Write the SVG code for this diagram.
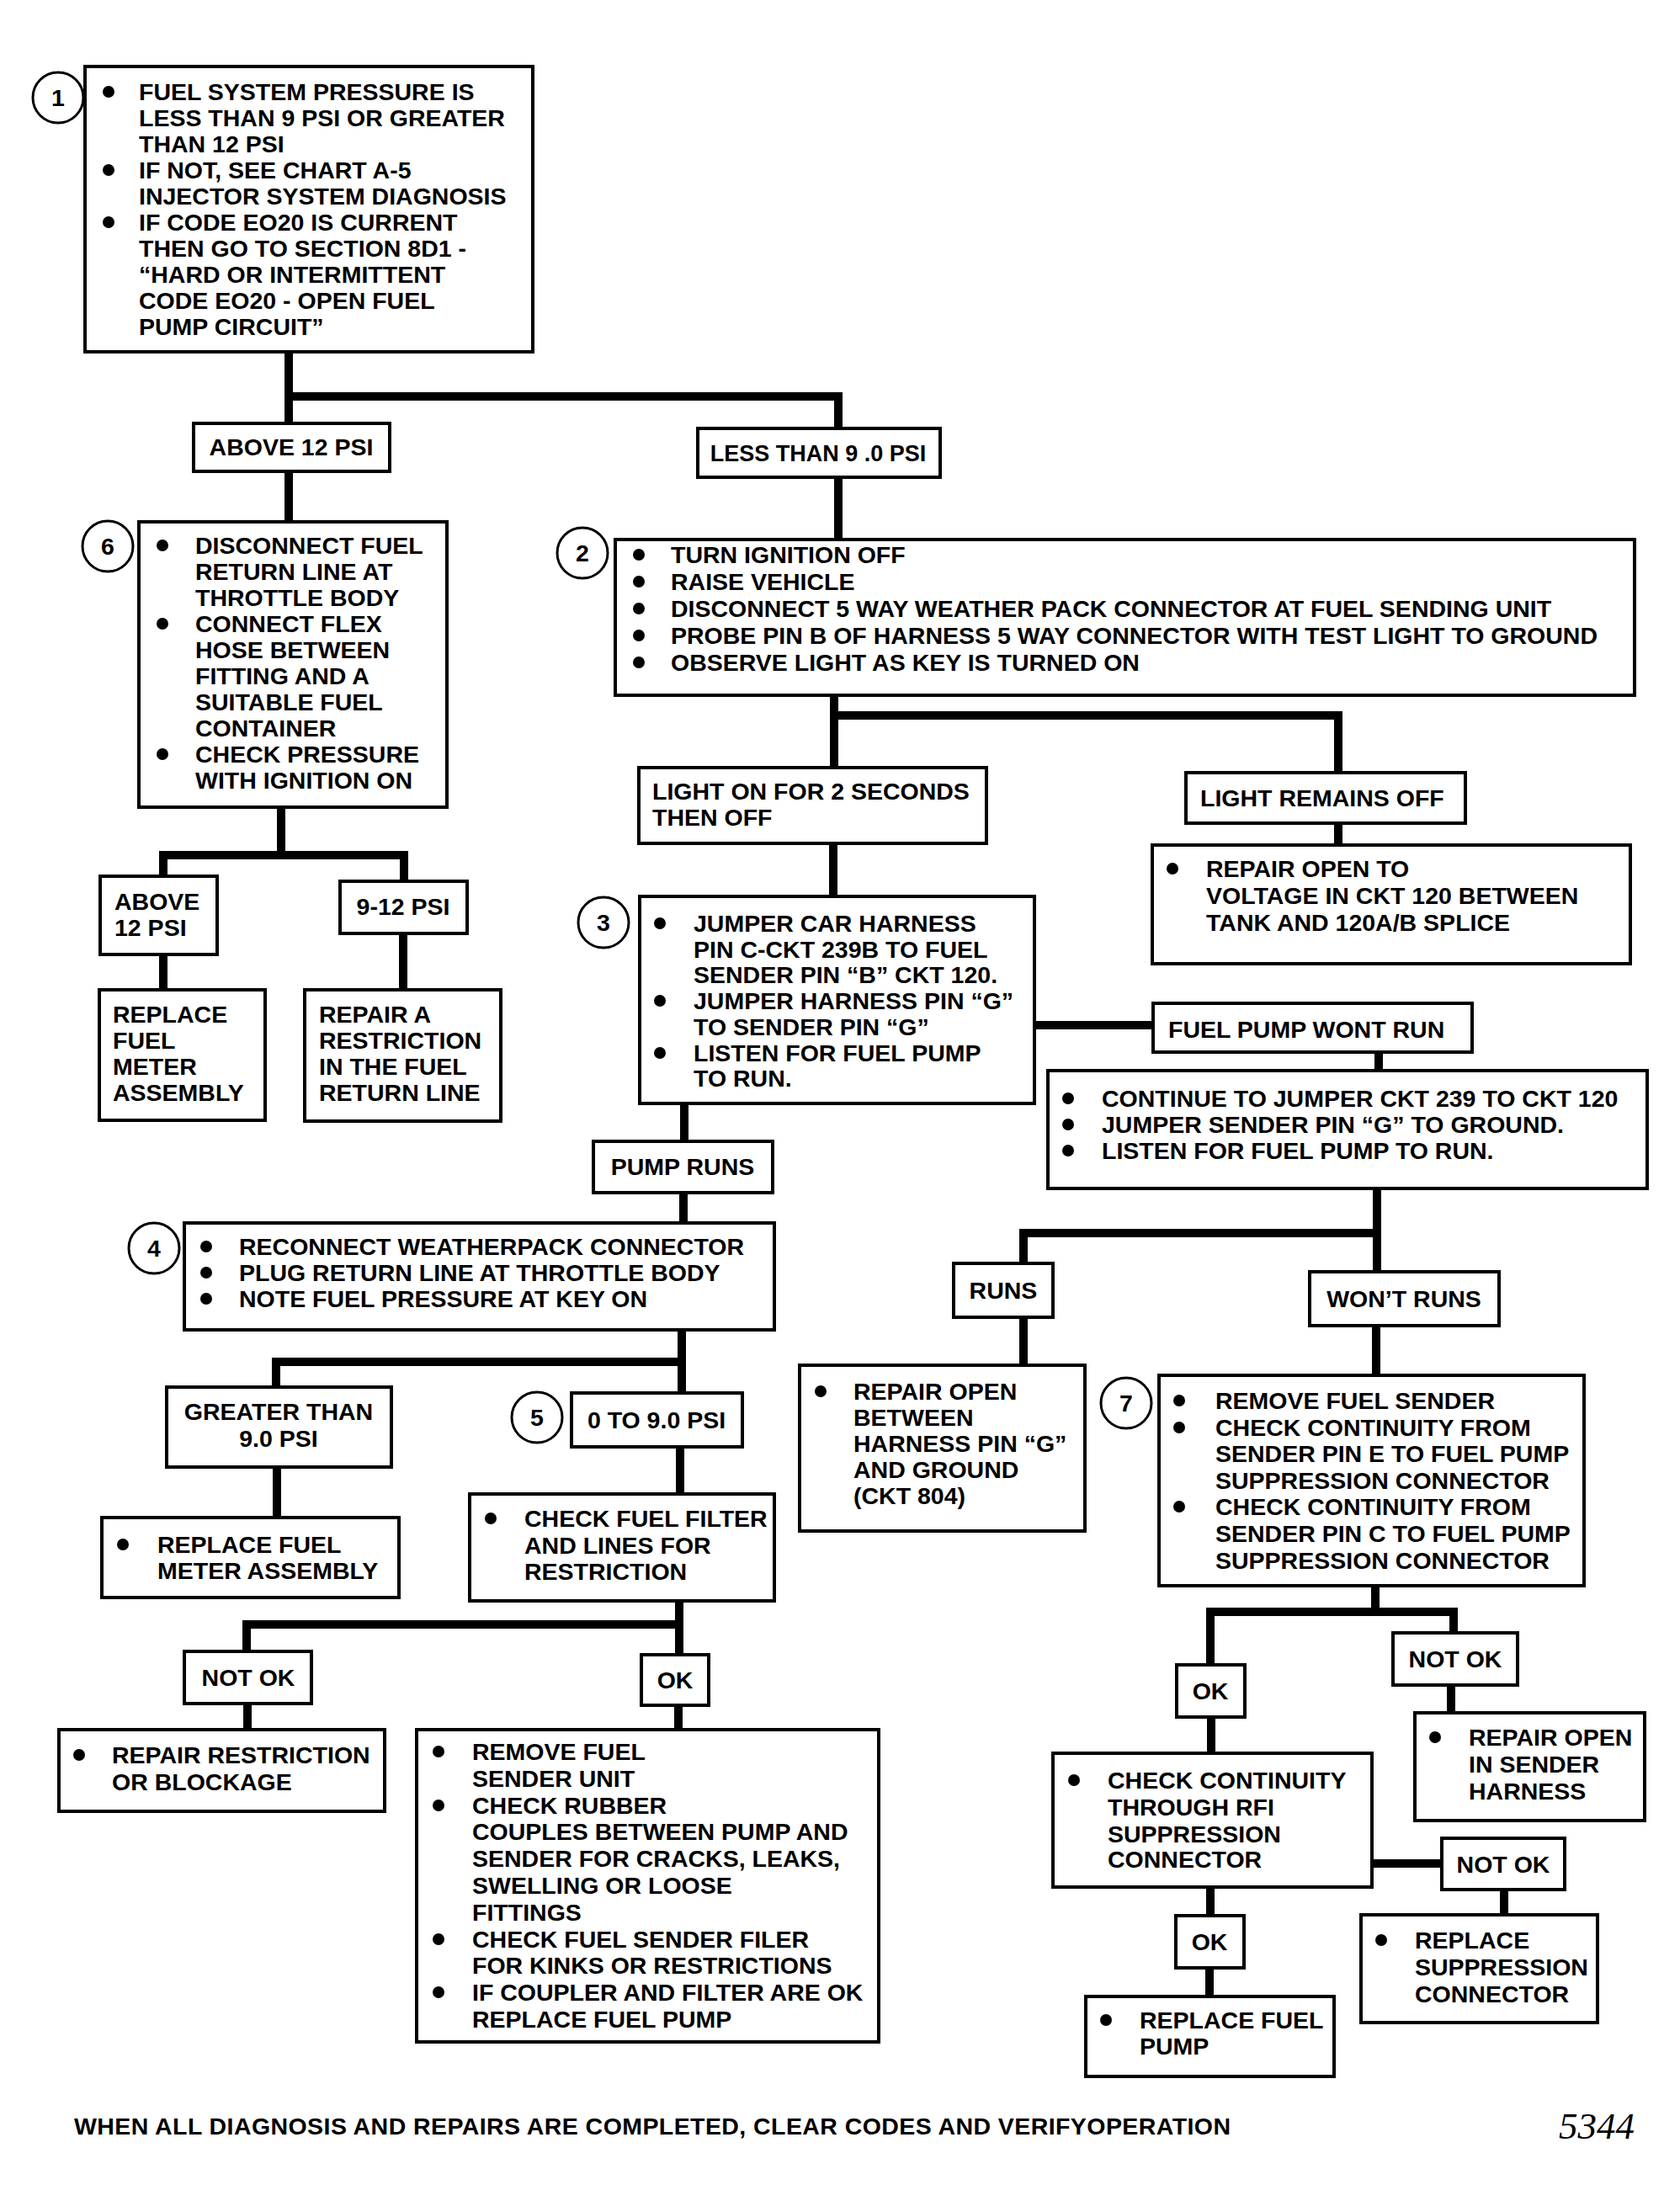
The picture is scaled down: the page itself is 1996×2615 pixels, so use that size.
<svg xmlns="http://www.w3.org/2000/svg" width="1996" height="2615" viewBox="0 0 1996 2615">
<style>
.b{fill:#fff;stroke:#000;stroke-width:4}
.k{fill:none;stroke:#000;stroke-width:3}
.c{fill:none;stroke:#000;stroke-width:10;stroke-linejoin:miter}
.t{font-family:"Liberation Sans",Arial,sans-serif;font-weight:bold;font-size:28.5px;fill:#000}
.s{font-size:27px}
.m{text-anchor:middle}
.d{fill:#000}
.f{font-family:"Liberation Serif","Times New Roman",serif;font-style:italic;font-size:45px;fill:#000}
</style>
<rect width="1996" height="2615" fill="#fff"/>
<g id="connectors">
<path class="c" d="M343 418V471H996V509M343 471V503M343 560V620"/>
<path class="c" d="M334 959V1016M194 1041V1016H480V1047M194 1134V1176M479 1109V1176"/>
<path class="c" d="M996 567V641M991 826V850H1590V918M991 850V912M1590 978V1004M990 1002V1065M1229 1218H1370M1638 1250V1272"/>
<path class="c" d="M813 1311V1356M812 1417V1453M810 1580V1655M328 1648V1618H810M329 1743V1803M808 1719V1775"/>
<path class="c" d="M807 1902V1966M293 1962V1930H807M294 2024V2055M806 2026V2055"/>
<path class="c" d="M1636 1412V1511M1216 1501V1465H1636M1216 1565V1622M1635 1575V1634"/>
<path class="c" d="M1634 1884V1915M1438 1978V1915H1727V1940M1724 2002V2035M1439 2040V2083M1630 2214H1713M1787 2245V2275M1438 2242V2276M1437 2338V2372"/>
</g>
<g id="n1">
<circle class="k" cx="69" cy="116" r="30"/><text class="t m" x="69" y="126">1</text>
<rect class="b" x="101" y="79" width="532" height="339"/>
<circle class="d" cx="129" cy="109" r="7"/><circle class="d" cx="129" cy="202" r="7"/><circle class="d" cx="129" cy="264" r="7"/>
<text class="t" x="165" y="119">FUEL SYSTEM PRESSURE IS</text>
<text class="t" x="165" y="150">LESS THAN 9 PSI OR GREATER</text>
<text class="t" x="165" y="181">THAN 12 PSI</text>
<text class="t" x="165" y="212">IF NOT, SEE CHART A-5</text>
<text class="t" x="165" y="243">INJECTOR SYSTEM DIAGNOSIS</text>
<text class="t" x="165" y="274">IF CODE EO20 IS CURRENT</text>
<text class="t" x="165" y="305">THEN GO TO SECTION 8D1 -</text>
<text class="t" x="165" y="336">“HARD OR INTERMITTENT</text>
<text class="t" x="165" y="367">CODE EO20 - OPEN FUEL</text>
<text class="t" x="165" y="398">PUMP CIRCUIT”</text>
</g>
<g id="above1"><rect class="b" x="230" y="503" width="233" height="57"/><text class="t m" x="346" y="541">ABOVE 12 PSI</text></g>
<g id="less9"><rect class="b" x="829" y="509" width="288" height="58"/><text class="t s m" x="972" y="548">LESS THAN 9 .0 PSI</text></g>
<g id="n6">
<circle class="k" cx="128" cy="649" r="30"/><text class="t m" x="128" y="659">6</text>
<rect class="b" x="165" y="620" width="366" height="339"/>
<circle class="d" cx="193" cy="648" r="7"/><circle class="d" cx="193" cy="741" r="7"/><circle class="d" cx="193" cy="896" r="7"/>
<text class="t" x="232" y="658">DISCONNECT FUEL</text>
<text class="t" x="232" y="689">RETURN LINE AT</text>
<text class="t" x="232" y="720">THROTTLE BODY</text>
<text class="t" x="232" y="751">CONNECT FLEX</text>
<text class="t" x="232" y="782">HOSE BETWEEN</text>
<text class="t" x="232" y="813">FITTING AND A</text>
<text class="t" x="232" y="844">SUITABLE FUEL</text>
<text class="t" x="232" y="875">CONTAINER</text>
<text class="t" x="232" y="906">CHECK PRESSURE</text>
<text class="t" x="232" y="937">WITH IGNITION ON</text>
</g>
<g id="above2"><rect class="b" x="119" y="1041" width="139" height="93"/><text class="t" x="136" y="1081">ABOVE</text><text class="t" x="136" y="1112">12 PSI</text></g>
<g id="p912"><rect class="b" x="404" y="1047" width="151" height="62"/><text class="t m" x="479" y="1087">9-12 PSI</text></g>
<g id="replacemeter1"><rect class="b" x="118" y="1176" width="197" height="155"/>
<text class="t" x="134" y="1215">REPLACE</text><text class="t" x="134" y="1246">FUEL</text><text class="t" x="134" y="1277">METER</text><text class="t" x="134" y="1308">ASSEMBLY</text></g>
<g id="repaira"><rect class="b" x="362" y="1176" width="233" height="156"/>
<text class="t" x="379" y="1215">REPAIR A</text><text class="t" x="379" y="1246">RESTRICTION</text><text class="t" x="379" y="1277">IN THE FUEL</text><text class="t" x="379" y="1308">RETURN LINE</text></g>
<g id="n2">
<circle class="k" cx="692" cy="657" r="30"/><text class="t m" x="692" y="667">2</text>
<rect class="b" x="731" y="641" width="1211" height="185"/>
<circle class="d" cx="759" cy="659" r="7"/><circle class="d" cx="759" cy="691" r="7"/><circle class="d" cx="759" cy="723" r="7"/><circle class="d" cx="759" cy="755" r="7"/><circle class="d" cx="759" cy="787" r="7"/>
<text class="t" x="797" y="669">TURN IGNITION OFF</text>
<text class="t" x="797" y="701">RAISE VEHICLE</text>
<text class="t" x="797" y="733">DISCONNECT 5 WAY WEATHER PACK CONNECTOR AT FUEL SENDING UNIT</text>
<text class="t" x="797" y="765">PROBE PIN B OF HARNESS 5 WAY CONNECTOR WITH TEST LIGHT TO GROUND</text>
<text class="t" x="797" y="797">OBSERVE LIGHT AS KEY IS TURNED ON</text>
</g>
<g id="lighton"><rect class="b" x="759" y="912" width="413" height="90"/><text class="t" x="775" y="950">LIGHT ON FOR 2 SECONDS</text><text class="t" x="775" y="981">THEN OFF</text></g>
<g id="lightoff"><rect class="b" x="1409" y="918" width="332" height="60"/><text class="t" x="1426" y="958">LIGHT REMAINS OFF</text></g>
<g id="repairvolt"><rect class="b" x="1369" y="1004" width="568" height="141"/>
<circle class="d" cx="1393" cy="1032" r="7"/>
<text class="t" x="1433" y="1042">REPAIR OPEN TO</text><text class="t" x="1433" y="1074">VOLTAGE IN CKT 120 BETWEEN</text><text class="t" x="1433" y="1106">TANK AND 120A/B SPLICE</text></g>
<g id="n3">
<circle class="k" cx="717" cy="1096" r="30"/><text class="t m" x="717" y="1106">3</text>
<rect class="b" x="760" y="1065" width="469" height="246"/>
<circle class="d" cx="784" cy="1097" r="7"/><circle class="d" cx="784" cy="1189" r="7"/><circle class="d" cx="784" cy="1251" r="7"/>
<text class="t" x="824" y="1107">JUMPER CAR HARNESS</text>
<text class="t" x="824" y="1138">PIN C-CKT 239B TO FUEL</text>
<text class="t" x="824" y="1168">SENDER PIN “B” CKT 120.</text>
<text class="t" x="824" y="1199">JUMPER HARNESS PIN “G”</text>
<text class="t" x="824" y="1230">TO SENDER PIN “G”</text>
<text class="t" x="824" y="1261">LISTEN FOR FUEL PUMP</text>
<text class="t" x="824" y="1291">TO RUN.</text>
</g>
<g id="wontrun"><rect class="b" x="1370" y="1192" width="379" height="58"/><text class="t" x="1388" y="1233">FUEL PUMP WONT RUN</text></g>
<g id="continue"><rect class="b" x="1245" y="1272" width="712" height="140"/>
<circle class="d" cx="1269" cy="1305" r="7"/><circle class="d" cx="1269" cy="1336" r="7"/><circle class="d" cx="1269" cy="1367" r="7"/>
<text class="t" x="1309" y="1315">CONTINUE TO JUMPER CKT 239 TO CKT 120</text>
<text class="t" x="1309" y="1346">JUMPER SENDER PIN “G” TO GROUND.</text>
<text class="t" x="1309" y="1377">LISTEN FOR FUEL PUMP TO RUN.</text></g>
<g id="pumpruns"><rect class="b" x="705" y="1356" width="213" height="61"/><text class="t m" x="811" y="1396">PUMP RUNS</text></g>
<g id="n4">
<circle class="k" cx="183" cy="1483" r="30"/><text class="t m" x="183" y="1493">4</text>
<rect class="b" x="219" y="1453" width="701" height="127"/>
<circle class="d" cx="245" cy="1481" r="7"/><circle class="d" cx="245" cy="1512" r="7"/><circle class="d" cx="245" cy="1543" r="7"/>
<text class="t" x="284" y="1491">RECONNECT WEATHERPACK CONNECTOR</text>
<text class="t" x="284" y="1522">PLUG RETURN LINE AT THROTTLE BODY</text>
<text class="t" x="284" y="1553">NOTE FUEL PRESSURE AT KEY ON</text>
</g>
<g id="greater"><rect class="b" x="198" y="1648" width="267" height="95"/><text class="t m" x="331" y="1687">GREATER THAN</text><text class="t m" x="331" y="1719">9.0 PSI</text></g>
<g id="n5">
<circle class="k" cx="638" cy="1684" r="30"/><text class="t m" x="638" y="1694">5</text>
<rect class="b" x="679" y="1655" width="203" height="64"/><text class="t m" x="780" y="1697">0 TO 9.0 PSI</text>
</g>
<g id="replacemeter2"><rect class="b" x="121" y="1803" width="353" height="95"/>
<circle class="d" cx="146" cy="1835" r="7"/>
<text class="t" x="187" y="1845">REPLACE FUEL</text><text class="t" x="187" y="1876">METER ASSEMBLY</text></g>
<g id="checkfilter"><rect class="b" x="558" y="1775" width="362" height="127"/>
<circle class="d" cx="583" cy="1804" r="7"/>
<text class="t" x="623" y="1814">CHECK FUEL FILTER</text><text class="t" x="623" y="1846">AND LINES FOR</text><text class="t" x="623" y="1877">RESTRICTION</text></g>
<g id="notok1"><rect class="b" x="219" y="1962" width="151" height="62"/><text class="t m" x="295" y="2003">NOT OK</text></g>
<g id="ok1"><rect class="b" x="762" y="1966" width="80" height="60"/><text class="t m" x="802" y="2006">OK</text></g>
<g id="repairrestriction"><rect class="b" x="70" y="2055" width="387" height="97"/>
<circle class="d" cx="94" cy="2085" r="7"/>
<text class="t" x="133" y="2095">REPAIR RESTRICTION</text><text class="t" x="133" y="2127">OR BLOCKAGE</text></g>
<g id="removesender"><rect class="b" x="495" y="2055" width="549" height="371"/>
<circle class="d" cx="521" cy="2081" r="7"/><circle class="d" cx="521" cy="2145" r="7"/><circle class="d" cx="521" cy="2304" r="7"/><circle class="d" cx="521" cy="2367" r="7"/>
<text class="t" x="561" y="2091">REMOVE FUEL</text>
<text class="t" x="561" y="2123">SENDER UNIT</text>
<text class="t" x="561" y="2155">CHECK RUBBER</text>
<text class="t" x="561" y="2186">COUPLES BETWEEN PUMP AND</text>
<text class="t" x="561" y="2218">SENDER FOR CRACKS, LEAKS,</text>
<text class="t" x="561" y="2250">SWELLING OR LOOSE</text>
<text class="t" x="561" y="2282">FITTINGS</text>
<text class="t" x="561" y="2314">CHECK FUEL SENDER FILER</text>
<text class="t" x="561" y="2345">FOR KINKS OR RESTRICTIONS</text>
<text class="t" x="561" y="2377">IF COUPLER AND FILTER ARE OK</text>
<text class="t" x="561" y="2409">REPLACE FUEL PUMP</text>
</g>
<g id="runs"><rect class="b" x="1133" y="1501" width="118" height="64"/><text class="t m" x="1192" y="1543">RUNS</text></g>
<g id="wontruns"><rect class="b" x="1556" y="1511" width="225" height="64"/><text class="t m" x="1668" y="1553">WON’T RUNS</text></g>
<g id="repairground"><rect class="b" x="950" y="1622" width="339" height="197"/>
<circle class="d" cx="975" cy="1653" r="7"/>
<text class="t" x="1014" y="1663">REPAIR OPEN</text>
<text class="t" x="1014" y="1694">BETWEEN</text>
<text class="t" x="1014" y="1725">HARNESS PIN “G”</text>
<text class="t" x="1014" y="1756">AND GROUND</text>
<text class="t" x="1014" y="1787">(CKT 804)</text></g>
<g id="n7">
<circle class="k" cx="1338" cy="1667" r="30"/><text class="t m" x="1338" y="1677">7</text>
<rect class="b" x="1377" y="1634" width="505" height="250"/>
<circle class="d" cx="1401" cy="1664" r="7"/><circle class="d" cx="1401" cy="1696" r="7"/><circle class="d" cx="1401" cy="1790" r="7"/>
<text class="t" x="1444" y="1674">REMOVE FUEL SENDER</text>
<text class="t" x="1444" y="1706">CHECK CONTINUITY FROM</text>
<text class="t" x="1444" y="1737">SENDER PIN E TO FUEL PUMP</text>
<text class="t" x="1444" y="1769">SUPPRESSION CONNECTOR</text>
<text class="t" x="1444" y="1800">CHECK CONTINUITY FROM</text>
<text class="t" x="1444" y="1832">SENDER PIN C TO FUEL PUMP</text>
<text class="t" x="1444" y="1864">SUPPRESSION CONNECTOR</text>
</g>
<g id="notok2"><rect class="b" x="1655" y="1940" width="148" height="62"/><text class="t m" x="1729" y="1981">NOT OK</text></g>
<g id="ok2"><rect class="b" x="1398" y="1978" width="81" height="62"/><text class="t m" x="1438" y="2019">OK</text></g>
<g id="repairsender"><rect class="b" x="1681" y="2035" width="273" height="128"/>
<circle class="d" cx="1705" cy="2064" r="7"/>
<text class="t" x="1745" y="2074">REPAIR OPEN</text><text class="t" x="1745" y="2106">IN SENDER</text><text class="t" x="1745" y="2138">HARNESS</text></g>
<g id="checkrfi"><rect class="b" x="1251" y="2083" width="379" height="159"/>
<circle class="d" cx="1276" cy="2115" r="7"/>
<text class="t" x="1316" y="2125">CHECK CONTINUITY</text><text class="t" x="1316" y="2157">THROUGH RFI</text><text class="t" x="1316" y="2189">SUPPRESSION</text><text class="t" x="1316" y="2219">CONNECTOR</text></g>
<g id="notok3"><rect class="b" x="1713" y="2184" width="146" height="61"/><text class="t m" x="1786" y="2225">NOT OK</text></g>
<g id="replacesupp"><rect class="b" x="1617" y="2275" width="281" height="128"/>
<circle class="d" cx="1641" cy="2305" r="7"/>
<text class="t" x="1681" y="2315">REPLACE</text><text class="t" x="1681" y="2347">SUPPRESSION</text><text class="t" x="1681" y="2379">CONNECTOR</text></g>
<g id="ok3"><rect class="b" x="1397" y="2276" width="81" height="62"/><text class="t m" x="1437" y="2317">OK</text></g>
<g id="replacepump"><rect class="b" x="1290" y="2372" width="295" height="95"/>
<circle class="d" cx="1314" cy="2400" r="7"/>
<text class="t" x="1354" y="2410">REPLACE FUEL</text><text class="t" x="1354" y="2441">PUMP</text></g>
<g id="footer">
<text class="t" x="88" y="2536" textLength="1374" lengthAdjust="spacing">WHEN ALL DIAGNOSIS AND REPAIRS ARE COMPLETED, CLEAR CODES AND VERIFYOPERATION</text>
<text class="f" x="1852" y="2541">5344</text>
</g>
</svg>
